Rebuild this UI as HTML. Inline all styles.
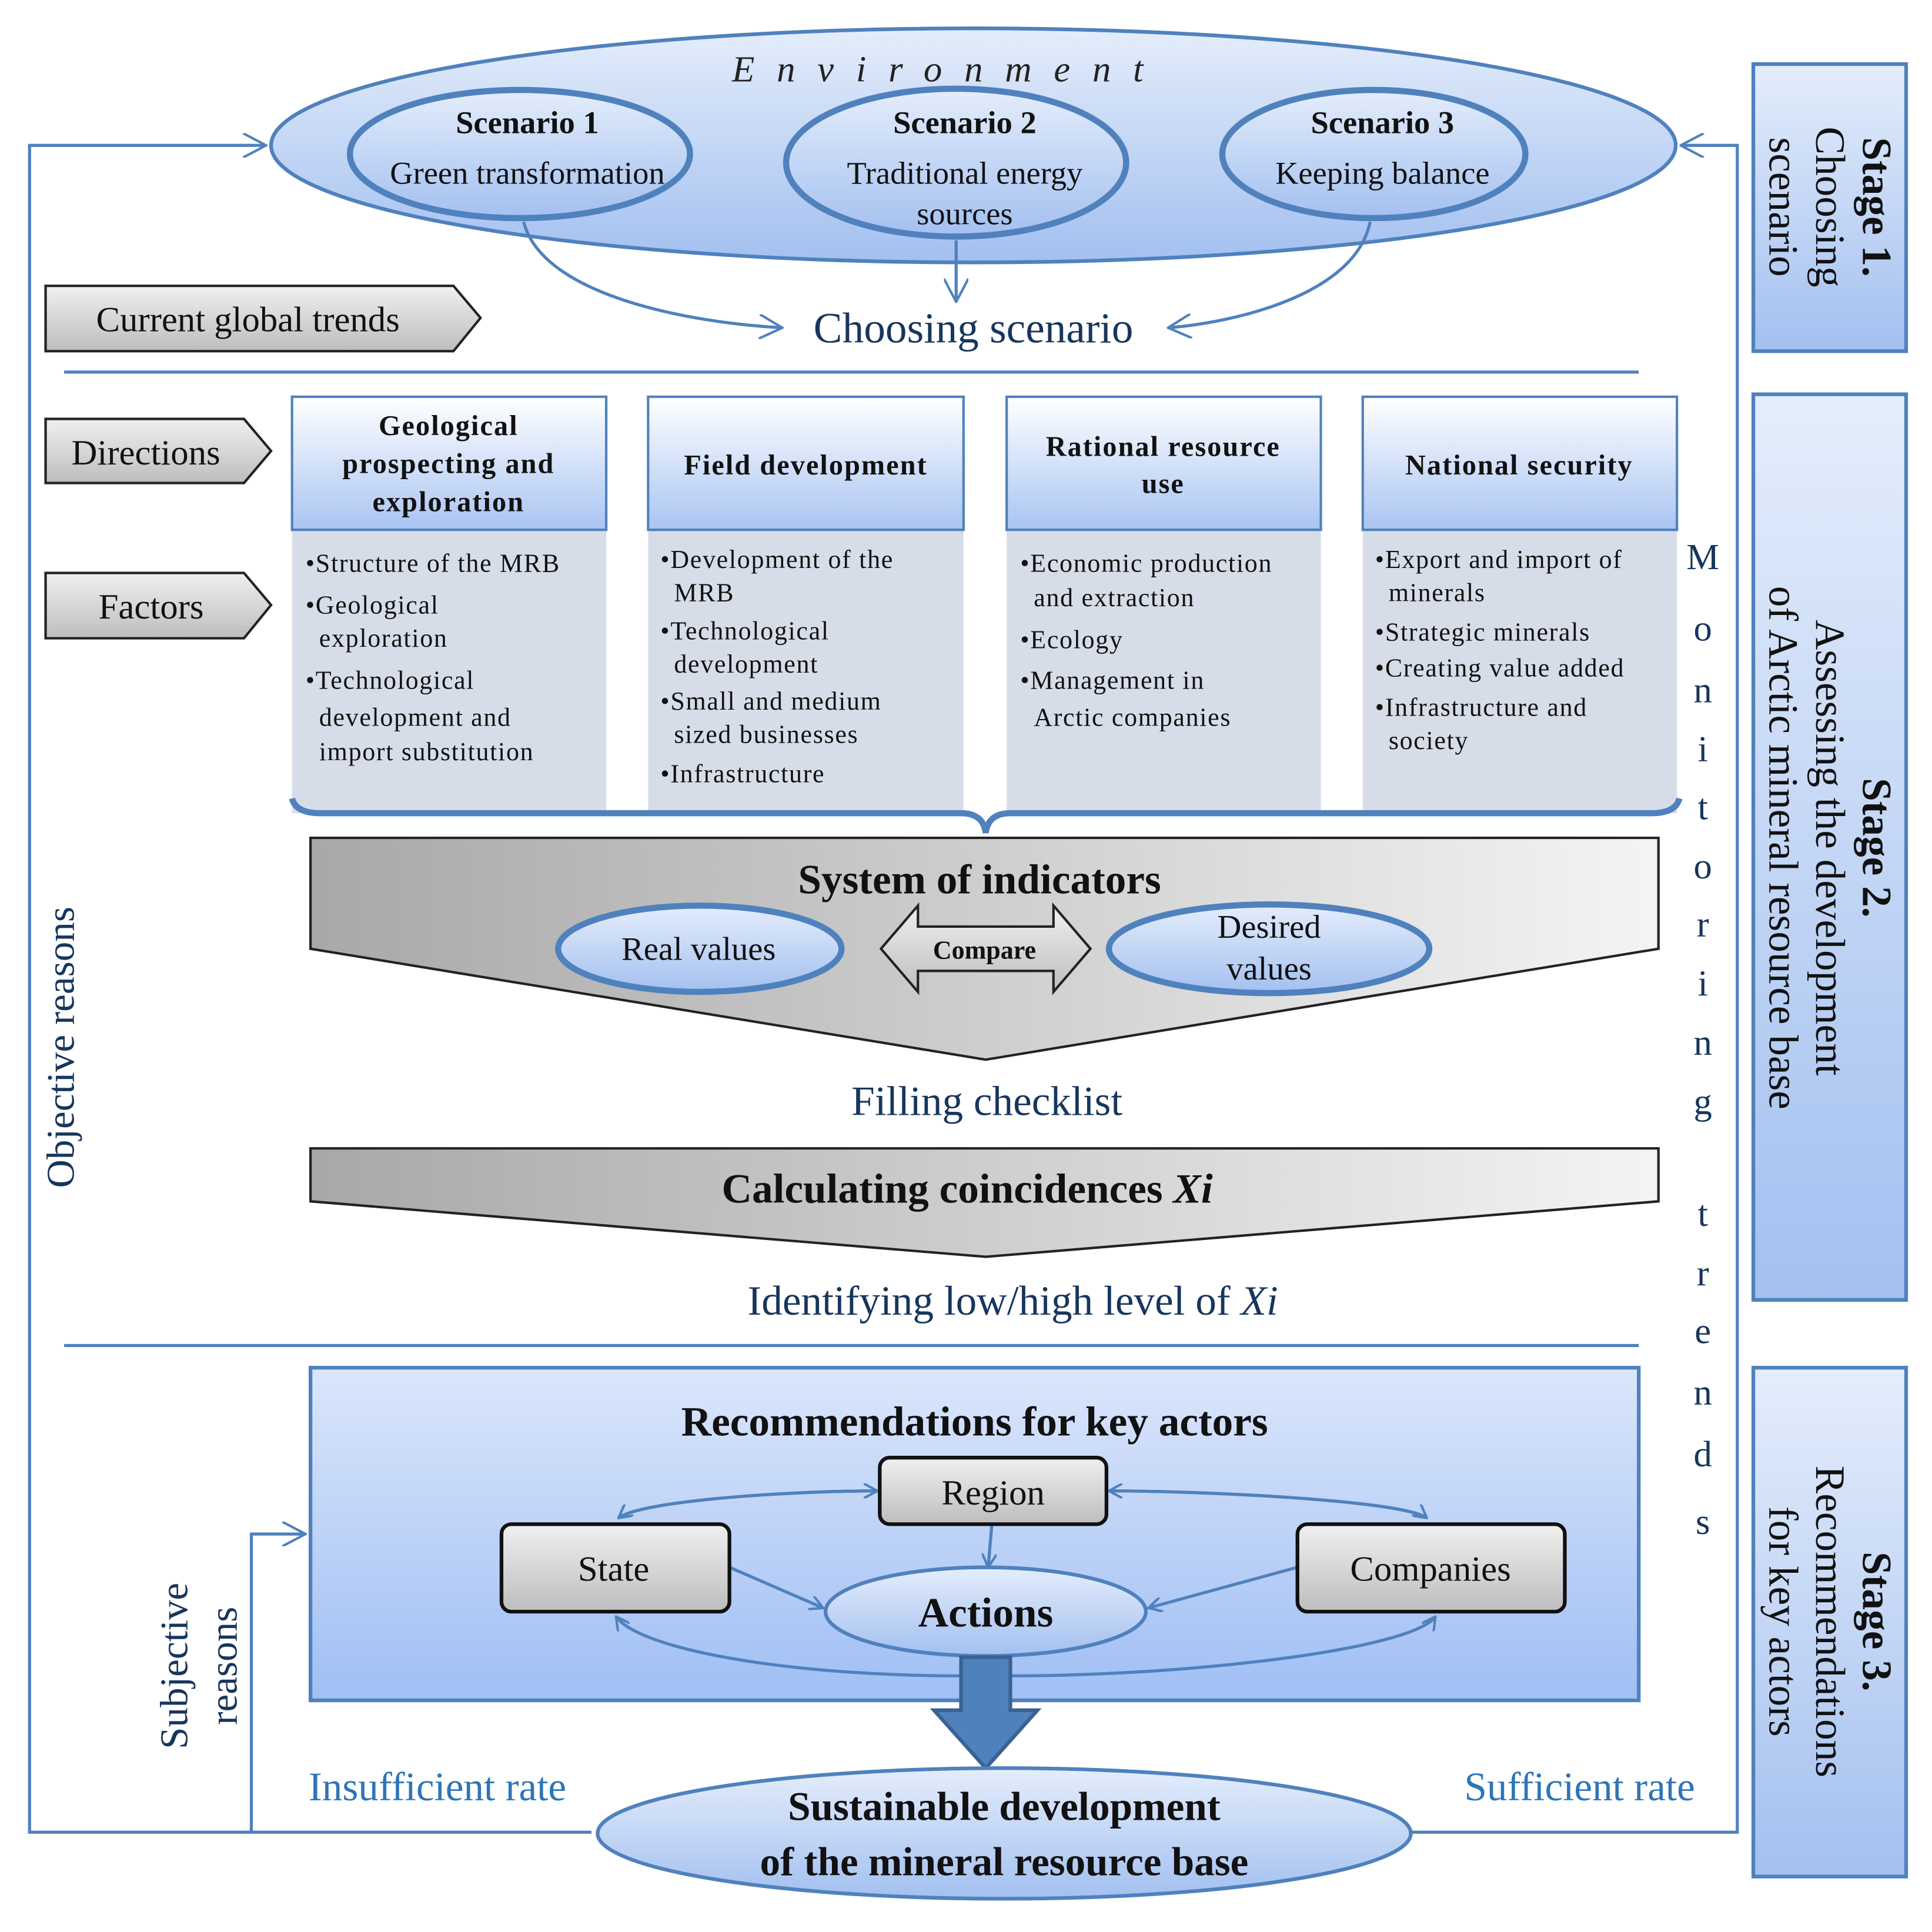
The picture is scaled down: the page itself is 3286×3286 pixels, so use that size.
<!DOCTYPE html>
<html><head><meta charset="utf-8"><style>
html,body{margin:0;padding:0;background:#fff;}
svg{display:block;}
text{font-family:"Liberation Serif",serif;}
</style></head><body>
<svg width="3286" height="3286" viewBox="0 0 1568 1568" xmlns="http://www.w3.org/2000/svg">
<defs>
<linearGradient id="bl" x1="0" y1="0" x2="0" y2="1"><stop offset="0" stop-color="#e4edfb"/><stop offset="1" stop-color="#a3c0f0"/></linearGradient>
<linearGradient id="hd" x1="0" y1="0" x2="0" y2="1"><stop offset="0" stop-color="#ffffff"/><stop offset="1" stop-color="#a9c4f2"/></linearGradient>
<linearGradient id="gr" x1="0" y1="0" x2="0" y2="1"><stop offset="0" stop-color="#f0f0f0"/><stop offset="1" stop-color="#bdbdbd"/></linearGradient>
<linearGradient id="grh" x1="0" y1="0" x2="1" y2="0"><stop offset="0" stop-color="#a8a8a8"/><stop offset="1" stop-color="#f4f4f4"/></linearGradient>
<linearGradient id="rec" x1="0" y1="0" x2="0" y2="1"><stop offset="0" stop-color="#dbe6fb"/><stop offset="1" stop-color="#a0bff4"/></linearGradient>
<marker id="ar" viewBox="0 0 12 12" refX="11" refY="6" markerWidth="12" markerHeight="12" markerUnits="userSpaceOnUse" orient="auto"><path d="M0,0 L11,6 L0,12" fill="none" stroke="#4f81bd" stroke-width="2"/></marker>
<marker id="ar2" viewBox="0 0 20 20" refX="19" refY="10" markerWidth="20" markerHeight="20" markerUnits="userSpaceOnUse" orient="auto"><path d="M0,0 L19,10 L0,20" fill="none" stroke="#4f81bd" stroke-width="2"/></marker>
</defs>

<g fill="none" stroke="#4f81bd" stroke-width="2.5">
<path d="M480,1487 L24,1487 L24,118 L216,118" marker-end="url(#ar2)"/>
<path d="M204,1487 L204,1245 L248,1245" marker-end="url(#ar2)"/>
<path d="M1145,1487 L1410,1487 L1410,118 L1364,118" marker-end="url(#ar2)"/>
<line x1="52" y1="302" x2="1330" y2="302"/>
<line x1="52" y1="1092" x2="1330" y2="1092"/>
</g>

<ellipse cx="790" cy="118" rx="570" ry="95" fill="url(#bl)" stroke="#4f81bd" stroke-width="3"/>
<text x="770" y="66" font-size="30" font-style="italic" text-anchor="middle" letter-spacing="18" fill="#222">Environment</text>
<g fill="url(#bl)" stroke="#4f81bd" stroke-width="5">
<ellipse cx="422" cy="125" rx="138" ry="52"/>
<ellipse cx="776" cy="132" rx="138" ry="60"/>
<ellipse cx="1115" cy="125" rx="123" ry="52"/>
</g>
<g font-size="26" text-anchor="middle" fill="#111">
<text x="428" y="108" font-weight="bold">Scenario 1</text>
<text x="428" y="149">Green transformation</text>
<text x="783" y="108" font-weight="bold">Scenario 2</text>
<text x="783" y="149">Traditional energy</text>
<text x="783" y="182">sources</text>
<text x="1122" y="108" font-weight="bold">Scenario 3</text>
<text x="1122" y="149">Keeping balance</text>
</g>
<g fill="none" stroke="#4f81bd" stroke-width="2.5">
<path d="M425,180 C440,240 560,262 635,266" marker-end="url(#ar2)"/>
<path d="M776,195 L776,245" marker-end="url(#ar2)"/>
<path d="M1112,180 C1100,240 1000,262 948,266" marker-end="url(#ar2)"/>
</g>
<text x="790" y="278" font-size="35" text-anchor="middle" fill="#17365d">Choosing scenario</text>

<g fill="url(#gr)" stroke="#222" stroke-width="2">
<polygon points="37,232 368,232 390,258 368,285 37,285"/>
<polygon points="37,340 198,340 220,366 198,392 37,392"/>
<polygon points="37,465 198,465 220,491 198,518 37,518"/>
</g>
<g font-size="29" fill="#111">
<text x="78" y="269">Current global trends</text>
<text x="58" y="377">Directions</text>
<text x="80" y="502">Factors</text>
</g>

<g>
<rect x="237" y="430" width="255" height="230" fill="#d7dde8"/>
<rect x="526" y="430" width="256" height="230" fill="#d7dde8"/>
<rect x="817" y="430" width="255" height="230" fill="#d7dde8"/>
<rect x="1106" y="430" width="255" height="230" fill="#d7dde8"/>
<g fill="url(#hd)" stroke="#4f81bd" stroke-width="2">
<rect x="237" y="322" width="255" height="108"/>
<rect x="526" y="322" width="256" height="108"/>
<rect x="817" y="322" width="255" height="108"/>
<rect x="1106" y="322" width="255" height="108"/>
</g>
</g>
<g font-size="23" font-weight="bold" text-anchor="middle" fill="#111" letter-spacing="1">
<text x="364" y="353">Geological</text>
<text x="364" y="384">prospecting and</text>
<text x="364" y="415">exploration</text>
<text x="654" y="385">Field development</text>
<text x="944" y="370">Rational resource</text>
<text x="944" y="400">use</text>
<text x="1233" y="385">National security</text>
</g>
<g font-size="21" fill="#111" letter-spacing="0.8">
<text x="248" y="464">•Structure of the MRB</text>
<text x="248" y="498">•Geological</text>
<text x="259" y="525">exploration</text>
<text x="248" y="559">•Technological</text>
<text x="259" y="589">development and</text>
<text x="259" y="617">import substitution</text>

<text x="536" y="461">•Development of the</text>
<text x="547" y="488">MRB</text>
<text x="536" y="519">•Technological</text>
<text x="547" y="546">development</text>
<text x="536" y="576">•Small and medium</text>
<text x="547" y="603">sized businesses</text>
<text x="536" y="635">•Infrastructure</text>

<text x="828" y="464">•Economic production</text>
<text x="839" y="492">and extraction</text>
<text x="828" y="526">•Ecology</text>
<text x="828" y="559">•Management in</text>
<text x="839" y="589">Arctic companies</text>

<text x="1116" y="461">•Export and import of</text>
<text x="1127" y="488">minerals</text>
<text x="1116" y="520">•Strategic minerals</text>
<text x="1116" y="549">•Creating value added</text>
<text x="1116" y="581">•Infrastructure and</text>
<text x="1127" y="608">society</text>
</g>
<path d="M237,648 Q240,660 260,660 L780,660 Q798,660 800,676 Q802,660 820,660 L1340,660 Q1360,660 1363,648" fill="none" stroke="#4f81bd" stroke-width="5"/>

<polygon points="252,680 1346,680 1346,770 800,860 252,770" fill="url(#grh)" stroke="#222" stroke-width="2"/>
<text x="795" y="725" font-size="34" font-weight="bold" text-anchor="middle" fill="#111">System of indicators</text>
<g fill="url(#bl)" stroke="#4f81bd" stroke-width="5">
<ellipse cx="568" cy="770" rx="115" ry="35"/>
<ellipse cx="1030" cy="770" rx="130" ry="36"/>
</g>
<polygon points="715,770 745,735 745,752 855,752 855,735 885,770 855,805 855,788 745,788 745,805" fill="url(#gr)" stroke="#222" stroke-width="2"/>
<g font-size="27" text-anchor="middle" fill="#111">
<text x="567" y="779">Real values</text>
<text x="1030" y="761">Desired</text>
<text x="1030" y="795">values</text>
<text x="799" y="778" font-size="21" font-weight="bold">Compare</text>
</g>
<text x="801" y="905" font-size="34" text-anchor="middle" fill="#17365d">Filling checklist</text>

<polygon points="252,932 1346,932 1346,975 800,1020 252,975" fill="url(#grh)" stroke="#222" stroke-width="2"/>
<text x="785" y="976" font-size="34" font-weight="bold" text-anchor="middle" fill="#111">Calculating coincidences <tspan font-style="italic">Xi</tspan></text>
<text x="822" y="1067" font-size="34" text-anchor="middle" fill="#17365d">Identifying low/high level of <tspan font-style="italic">Xi</tspan></text>

<rect x="252" y="1110" width="1078" height="270" fill="url(#rec)" stroke="#4f81bd" stroke-width="3"/>
<text x="791" y="1165" font-size="34" font-weight="bold" text-anchor="middle" fill="#111">Recommendations for key actors</text>
<g fill="none" stroke="#4f81bd" stroke-width="2.5">
<path d="M502,1232 C520,1218 640,1210 712,1210" marker-end="url(#ar)"/>
<path d="M712,1210 C640,1210 520,1218 502,1232" marker-end="url(#ar)"/>
<path d="M1158,1232 C1140,1218 980,1210 900,1210" marker-end="url(#ar)"/>
<path d="M900,1210 C980,1210 1140,1218 1158,1232" marker-end="url(#ar)"/>
<path d="M805,1237 L802,1272" marker-end="url(#ar)"/>
<path d="M592,1272 L668,1305" marker-end="url(#ar)"/>
<path d="M1053,1272 L932,1305" marker-end="url(#ar)"/>
<path d="M800,1360 C650,1362 520,1340 500,1312" marker-end="url(#ar)"/>
<path d="M800,1360 C950,1362 1145,1340 1165,1312" marker-end="url(#ar)"/>
</g>
<g fill="url(#gr)" stroke="#111" stroke-width="3">
<rect x="714" y="1183" width="184" height="54" rx="8"/>
<rect x="407" y="1237" width="185" height="71" rx="8"/>
<rect x="1053" y="1237" width="217" height="71" rx="8"/>
</g>
<ellipse cx="800" cy="1308" rx="130" ry="36" fill="url(#bl)" stroke="#4f81bd" stroke-width="3"/>
<g font-size="29" text-anchor="middle" fill="#111">
<text x="806" y="1221">Region</text>
<text x="498" y="1283">State</text>
<text x="1161" y="1283">Companies</text>
<text x="800" y="1320" font-size="34" font-weight="bold">Actions</text>
</g>
<polygon points="780,1345 820,1345 820,1388 842,1388 800,1435 758,1388 780,1388" fill="#4f81bd" stroke="#3a6294" stroke-width="3"/>

<ellipse cx="815" cy="1488" rx="330" ry="53" fill="url(#bl)" stroke="#4f81bd" stroke-width="3"/>
<g font-size="33" font-weight="bold" text-anchor="middle" fill="#111">
<text x="815" y="1477">Sustainable development</text>
<text x="815" y="1522">of the mineral resource base</text>
</g>
<g font-size="33" text-anchor="middle" fill="#2e75b6">
<text x="355" y="1461">Insufficient rate</text>
<text x="1282" y="1461">Sufficient rate</text>
</g>

<g font-size="32" fill="#17365d" text-anchor="middle">
<text transform="translate(60,850) rotate(-90)">Objective reasons</text>
<text transform="translate(152,1352) rotate(-90)">Subjective</text>
<text transform="translate(192,1352) rotate(-90)">reasons</text>
</g>
<g font-size="30" fill="#17365d" text-anchor="middle">
<text x="1382" y="462">M</text><text x="1382" y="520">o</text><text x="1382" y="570">n</text>
<text x="1382" y="618">i</text><text x="1382" y="665">t</text><text x="1382" y="713">o</text>
<text x="1382" y="760">r</text><text x="1382" y="808">i</text><text x="1382" y="856">n</text>
<text x="1382" y="904">g</text>
<text x="1382" y="995">t</text><text x="1382" y="1043">r</text><text x="1382" y="1090">e</text>
<text x="1382" y="1140">n</text><text x="1382" y="1190">d</text><text x="1382" y="1245">s</text>
</g>

<g fill="url(#bl)" stroke="#4f81bd" stroke-width="3">
<rect x="1423" y="52" width="124" height="233"/>
<rect x="1423" y="320" width="124" height="735"/>
<rect x="1423" y="1110" width="124" height="413"/>
</g>
<g font-size="34" fill="#111" text-anchor="middle">
<text transform="translate(1512,168) rotate(90)" font-weight="bold">Stage 1.</text>
<text transform="translate(1474,168) rotate(90)">Choosing</text>
<text transform="translate(1436,168) rotate(90)">scenario</text>
<text transform="translate(1512,688) rotate(90)" font-weight="bold">Stage 2.</text>
<text transform="translate(1474,688) rotate(90)">Assessing the development</text>
<text transform="translate(1436,688) rotate(90)">of Arctic mineral resource base</text>
<text transform="translate(1512,1316) rotate(90)" font-weight="bold">Stage 3.</text>
<text transform="translate(1474,1316) rotate(90)">Recommendations</text>
<text transform="translate(1436,1316) rotate(90)">for key actors</text>
</g>
</svg>
</body></html>
